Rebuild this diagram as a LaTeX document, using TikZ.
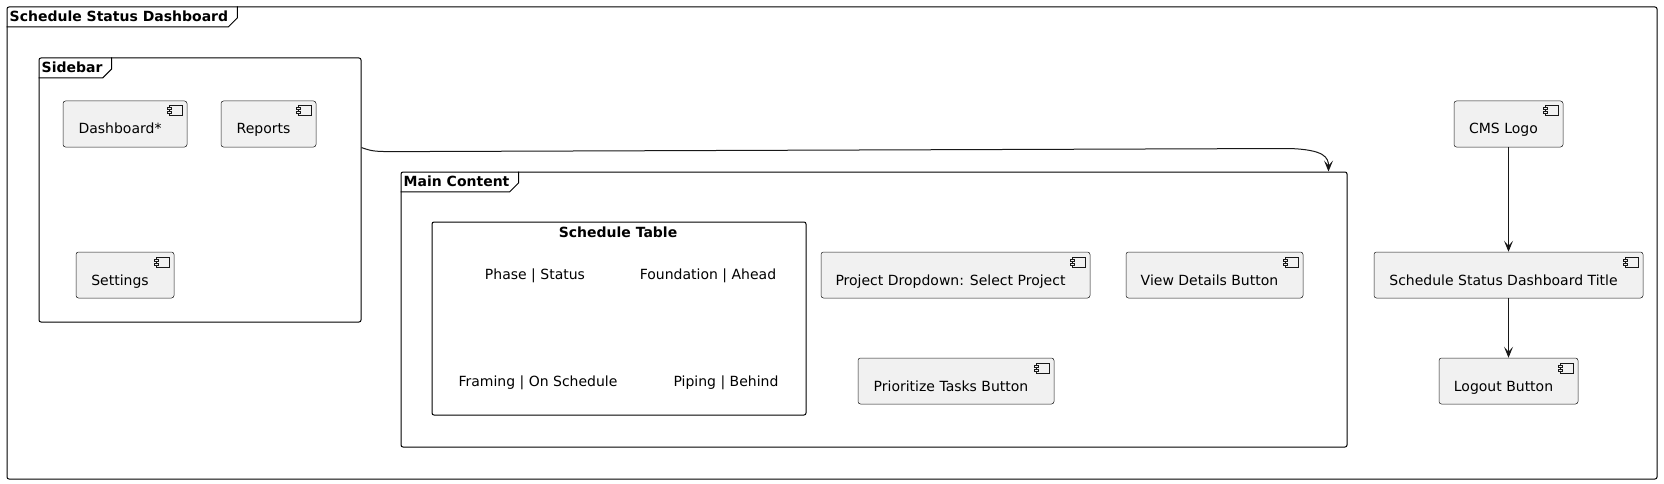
\documentclass[tikz,border=0pt]{standalone}
\usepackage{fontspec}
\setmainfont{DejaVu Sans}
\usepackage{xcolor}
\usetikzlibrary{arrows.meta, positioning, calc}
\definecolor{compfill}{HTML}{F1F1F1}
\definecolor{compline}{HTML}{181818}

\begin{document}
\begin{tikzpicture}[
  x=1pt, y=-1pt,
  every node/.style={font=\fontsize{14}{16}\selectfont},
  comp/.style={rectangle, draw=compline, fill=compfill, line width=0.5pt,
    rounded corners=2.5pt, minimum height=46pt, inner xsep=0pt,
    text height=22pt, text depth=2pt, execute at end node={\hspace*{10pt}}},
  frame/.style={rectangle, draw=black, line width=1pt, rounded corners=2pt, inner sep=0pt},
  tab/.style={anchor=north west, inner xsep=3pt, inner ysep=0pt, minimum height=20pt,
    font=\fontsize{14}{16}\selectfont\bfseries},
  tabline/.style={draw=black, line width=1pt},
  icon/.style={draw=compline, fill=compfill, line width=0.5pt},
  arr/.style={-{Stealth[length=11pt, width=9pt, inset=5pt]}, draw=compline, line width=1pt}
]
\useasboundingbox (0,0) rectangle (1664,484);

% frames
\node[frame, minimum width=1650pt, minimum height=472pt] (dashboard) at (832,243) {};
\node[frame, minimum width=322pt, minimum height=264pt] (sidebar) at (200,190) {};
\node[frame, minimum width=946pt, minimum height=275pt] (main) at (874,309.5) {};
\node[frame, minimum width=374pt, minimum height=193pt] (table) at (619,318.5) {};

\node[tab] (dashtab) at (dashboard.north west) {Schedule Status Dashboard};
\node[tab] (sidetab) at (sidebar.north west) {Sidebar};
\node[tab] (maintab) at (main.north west) {Main Content};
\foreach \t in {dashtab, sidetab, maintab} {
  \draw[tabline] (\t.south west) -- ($(\t.south east)+(-3,0)$)
    -- ($(\t.south east)+(6,-9)$) -- ($(\t.north east)+(6,0)$);
}

% sidebar
\node[comp, minimum width=124pt] (dash) at (125,124) {Dashboard*};
\node[comp, minimum width=95pt] (reports) at (268.5,124) {Reports};
\node[comp, minimum width=98pt] (settings) at (125,275) {Settings};

% main content
\node[font=\fontsize{14}{16}\selectfont\bfseries] (tabletitle) at (618,232) {Schedule Table};
\node (phase) at (535,276) {Phase | Status};
\node (foundation) at (708,276) {Foundation | Ahead};
\node (framing) at (538,383) {Framing | On Schedule};
\node (piping) at (726,383) {Piping | Behind};

\node[comp, minimum width=269pt] (dropdown) at (955.5,275) {Project Dropdown: Select Project};
\node[comp, minimum width=177pt] (details) at (1214.5,275) {View Details Button};
\node[comp, minimum width=196pt] (prioritize) at (956,381) {Prioritize Tasks Button};

% header
\node[comp, minimum width=109pt] (logo) at (1508.5,124) {CMS Logo};
\node[comp, minimum width=269pt] (dashtitle) at (1508.5,275) {Schedule Status Dashboard Title};
\node[comp, minimum width=139pt] (logout) at (1508.5,381) {Logout Button};

% component icons
\foreach \n in {dash, reports, settings, dropdown, details, prioritize, logo, dashtitle, logout} {
  \draw[icon] ($(\n.north east)+(-18,5)$) rectangle ($(\n.north east)+(-5,15)$);
  \draw[icon] ($(\n.north east)+(-20,7)$) rectangle ($(\n.north east)+(-16,9)$);
  \draw[icon] ($(\n.north east)+(-20,11)$) rectangle ($(\n.north east)+(-16,13)$);
}

% connectors
\coordinate (sbout) at ($(sidebar.north east)!0.34!(sidebar.south east)$);
\coordinate (mcin) at ($(main.north east)+(-19,0)$);
\draw[arr] (sbout) .. controls ($(sbout)+(12,4)$) .. ($(sbout)+(40,4)$)
  -- ($(mcin)+(-40,-23)$) .. controls ($(mcin)+(-4,-22)$) and ($(mcin)+(0,-14)$) .. (mcin);
\draw[arr] (logo) -- (dashtitle);
\draw[arr] (dashtitle) -- (logout);
\end{tikzpicture}
\end{document}
